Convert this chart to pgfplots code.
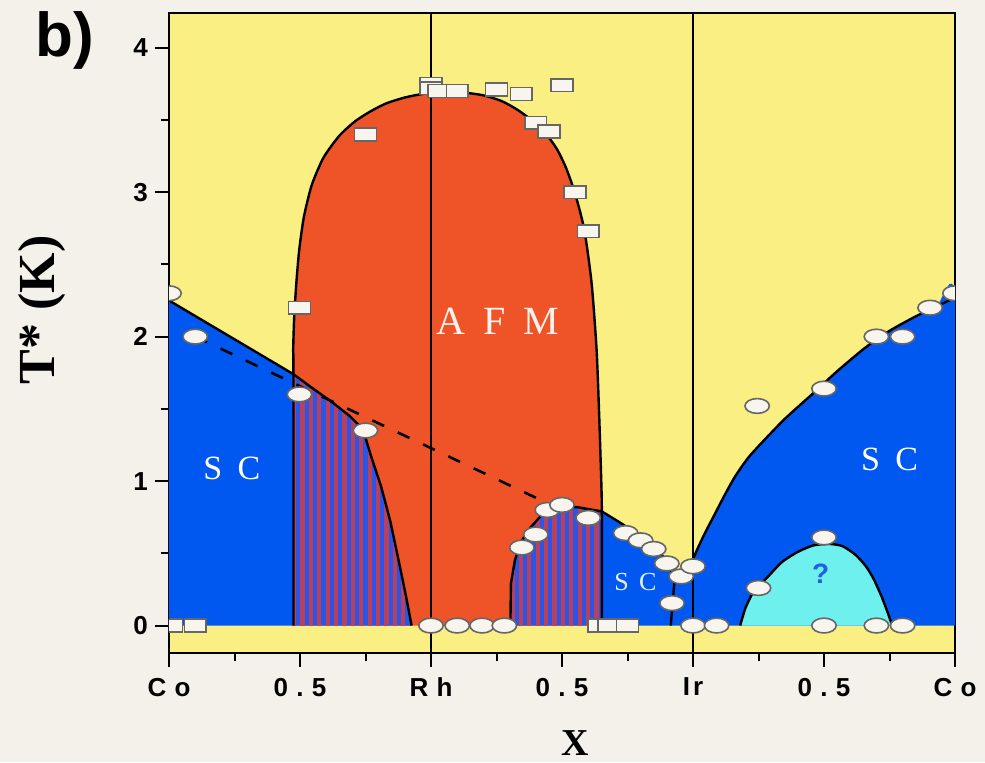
\documentclass[border=0pt]{standalone}
\usepackage{pgfplots}
\pgfplotsset{compat=1.18}
\usetikzlibrary{patterns.meta}
\usepackage{fontspec}
\setmainfont{Liberation Serif}
\newfontfamily\sansf{Liberation Sans}
\definecolor{bgc}{HTML}{F4F1EA}
\definecolor{yel}{HTML}{F9EF82}
\definecolor{org}{HTML}{EE5428}
\definecolor{scb}{HTML}{0058F0}
\definecolor{cya}{HTML}{6EF0EE}
\definecolor{sred}{HTML}{B8405C}
\definecolor{sblu}{HTML}{2A55E6}
\definecolor{qblue}{HTML}{1F60E6}
\definecolor{mk}{HTML}{F7F5EE}
\newcommand{\ls}{\hspace{0.32em}}
\begin{document}
\begin{tikzpicture}
\fill[bgc] (-84.5pt,-54.5pt) rectangle (408pt,326.5pt);
\begin{axis}[
  scale only axis, width=393pt, height=320pt,
  xmin=0, xmax=3, ymin=-0.19, ymax=4.24,
  axis background/.style={fill=yel},
  axis line style={line width=1pt},
  tick align=outside, tick pos=left,
  xtick={0,0.5,1,1.5,2,2.5,3},
  xticklabels={C\ls o,0\ls.\ls 5,R\ls h,0\ls.\ls 5,I\hspace{0.12em}r,0\ls.\ls 5,C\ls o},
  minor xtick={0.25,0.75,1.25,1.75,2.25,2.75},
  ytick={0,1,2,3,4}, yticklabels={0,1,2,3,4},
  minor ytick={0.5,1.5,2.5,3.5},
  major tick length=7pt, minor tick length=4pt,
  every tick/.style={line width=1pt, black},
  ticklabel style={font=\sansf\bfseries\fontsize{13}{13}\selectfont},
  xticklabel style={yshift=-2pt},
  clip marker paths=true,
]
% left SC (blue)
\addplot[fill=scb, draw=none] coordinates {(0,0)(0,2.25)(0.475,1.74)(0.475,0)};
% AFM dome
\addplot[fill=org, draw=none, smooth, tension=0.4] coordinates {
(0.475,0)(0.475,1.74)(0.474,1.91)(0.478,2.14)(0.486,2.37)(0.497,2.60)(0.515,2.83)(0.545,3.05)(0.59,3.24)
(0.65,3.39)(0.71,3.49)(0.77,3.56)(0.83,3.615)(0.90,3.655)(0.97,3.68)(1.05,3.69)(1.12,3.69)(1.20,3.67)
(1.27,3.63)(1.33,3.57)(1.39,3.49)(1.44,3.40)(1.48,3.30)(1.515,3.17)(1.55,2.99)(1.585,2.74)
(1.613,2.37)(1.632,1.91)(1.642,1.45)(1.65,0.99)(1.652,0.79)(1.652,0)};
% striped region 1
\addplot[fill=sblu, draw=none] coordinates {(0.475,0)(0.475,1.74)(0.55,1.64)(0.62,1.55)(0.69,1.45)(0.74,1.36)(0.77,1.18)(0.81,0.96)(0.845,0.72)(0.88,0.42)(0.905,0.20)(0.926,0)};
\addplot[pattern={Lines[angle=90,distance=4.2pt,line width=2.1pt]}, pattern color=sred, draw=none] coordinates {(0.475,0)(0.475,1.74)(0.55,1.64)(0.62,1.55)(0.69,1.45)(0.74,1.36)(0.77,1.18)(0.81,0.96)(0.845,0.72)(0.88,0.42)(0.905,0.20)(0.926,0)};
% striped region 2
\addplot[fill=sblu, draw=none] coordinates {(1.303,0)(1.305,0.29)(1.32,0.45)(1.34,0.57)(1.38,0.68)(1.43,0.78)(1.494,0.82)(1.558,0.82)(1.62,0.80)(1.652,0.79)(1.652,0)};
\addplot[pattern={Lines[angle=90,distance=4.2pt,line width=2.1pt]}, pattern color=sred, draw=none] coordinates {(1.303,0)(1.305,0.29)(1.32,0.45)(1.34,0.57)(1.38,0.68)(1.43,0.78)(1.494,0.82)(1.558,0.82)(1.62,0.80)(1.652,0.79)(1.652,0)};
% middle SC
\addplot[fill=scb, draw=none] coordinates {(1.652,0)(1.652,0.79)(1.724,0.71)(1.80,0.62)(1.85,0.55)(1.90,0.45)(1.93,0.32)(1.96,0.37)(2.0,0.46)(2.0,0)};
% right SC
\addplot[fill=scb, draw=none, smooth, tension=0.4] coordinates {(2.0,0)(2.0,0.46)(2.04,0.62)(2.08,0.76)(2.12,0.90)(2.16,1.03)(2.21,1.16)(2.27,1.28)(2.35,1.43)(2.46,1.61)(2.55,1.76)(2.655,1.92)(2.75,2.04)(2.85,2.14)(2.93,2.21)(3.0,2.27)(3.0,0)};
% cyan dome
\addplot[fill=cya, draw=none, smooth, tension=0.4] coordinates {(2.18,0)(2.20,0.12)(2.23,0.23)(2.287,0.34)(2.34,0.44)(2.40,0.51)(2.46,0.555)(2.52,0.565)(2.57,0.55)(2.62,0.49)(2.66,0.41)(2.69,0.32)(2.72,0.20)(2.745,0.08)(2.76,0)};
% boundaries
\addplot[black, line width=1.2pt, line join=round] coordinates {(0,2.25)(0.475,1.74)(0.55,1.64)(0.62,1.55)(0.69,1.45)(0.74,1.36)(0.77,1.18)(0.81,0.96)(0.845,0.72)(0.88,0.42)(0.905,0.20)(0.926,0)};
\addplot[black, line width=1.2pt, smooth, tension=0.4] coordinates {(0.475,0)(0.475,1.74)(0.474,1.91)(0.478,2.14)(0.486,2.37)(0.497,2.60)(0.515,2.83)(0.545,3.05)(0.59,3.24)
(0.65,3.39)(0.71,3.49)(0.77,3.56)(0.83,3.615)(0.90,3.655)(0.97,3.68)(1.05,3.69)(1.12,3.69)(1.20,3.67)
(1.27,3.63)(1.33,3.57)(1.39,3.49)(1.44,3.40)(1.48,3.30)(1.515,3.17)(1.55,2.99)(1.585,2.74)
(1.613,2.37)(1.632,1.91)(1.642,1.45)(1.65,0.99)(1.652,0.79)(1.652,0)};
\addplot[black, line width=1.2pt, line join=round] coordinates {(1.303,0)(1.305,0.29)(1.32,0.45)(1.34,0.57)(1.38,0.68)(1.43,0.78)(1.494,0.82)(1.558,0.82)(1.62,0.80)(1.652,0.79)(1.724,0.71)(1.80,0.62)(1.85,0.55)(1.90,0.45)(1.93,0.32)(1.96,0.37)(2.0,0.46)};
\addplot[black, line width=1.2pt] coordinates {(1.93,0.32)(1.915,0)};
\addplot[black, line width=1.2pt, smooth, tension=0.4] coordinates {(2.0,0.46)(2.04,0.62)(2.08,0.76)(2.12,0.90)(2.16,1.03)(2.21,1.16)(2.27,1.28)(2.35,1.43)(2.46,1.61)(2.55,1.76)(2.655,1.92)(2.75,2.04)(2.85,2.14)(2.93,2.21)(3.0,2.27)};
\addplot[black, line width=1.2pt, smooth, tension=0.4] coordinates {(2.18,0)(2.20,0.12)(2.23,0.23)(2.287,0.34)(2.34,0.44)(2.40,0.51)(2.46,0.555)(2.52,0.565)(2.57,0.55)(2.62,0.49)(2.66,0.41)(2.69,0.32)(2.72,0.20)(2.745,0.08)(2.76,0)};
% dashed line
\addplot[black, line width=1.3pt, dash pattern=on 6.5pt off 7.5pt] coordinates {(0.1,2.0)(1.40,0.885)};
% vertical composition lines
\addplot[black, line width=1.1pt] coordinates {(1,-0.19)(1,4.24)};
\addplot[black, line width=1.1pt] coordinates {(2,-0.19)(2,4.24)};
% labels
\node[white, font=\fontsize{17}{17}\selectfont] at (axis cs:0.24,1.085) {S\hspace{0.45em}C};
\node[white!92!org, font=\fontsize{20}{20}\selectfont] at (axis cs:1.255,2.105) {A\hspace{0.45em}F\hspace{0.45em}M};
\node[white, font=\fontsize{17}{17}\selectfont] at (axis cs:2.75,1.147) {S\hspace{0.45em}C};
\node[white!90!scb, font=\fontsize{13}{13}\selectfont] at (axis cs:1.78,0.30) {S\hspace{0.4em}C};
\node[qblue, font=\sansf\bfseries\fontsize{14}{14}\selectfont] at (axis cs:2.487,0.358) {?};
% data: squares
\addplot[only marks, mark=square*, mark size=3.2pt, mark options={xscale=1.7, fill=mk, draw=black!60, line width=0.8pt}] coordinates {
(0.01,0)(0.10,0)(0.498,2.20)(0.75,3.40)(1.0,3.75)(1.0,3.72)(1.03,3.70)(1.10,3.70)(1.25,3.71)(1.345,3.68)(1.50,3.74)
(1.40,3.48)(1.45,3.42)(1.55,3.00)(1.60,2.73)(1.64,0)(1.68,0)(1.75,0)};
% data: circles
\addplot[only marks, mark=*, mark size=3.7pt, mark options={xscale=1.65, fill=mk, draw=black!60, line width=0.8pt}] coordinates {
(0,2.30)(0.10,2.00)(0.498,1.60)(0.75,1.35)(1.0,0)(1.10,0)(1.195,0)(1.28,0)
(1.347,0.54)(1.40,0.63)(1.444,0.80)(1.50,0.835)(1.60,0.745)(1.743,0.64)(1.80,0.59)(1.85,0.53)(1.90,0.43)(1.955,0.34)(2.0,0.41)(1.92,0.155)
(2.0,0)(2.09,0)(2.245,1.52)(2.50,1.64)(2.70,2.00)(2.80,2.00)(2.905,2.20)(3.0,2.30)(2.50,0.61)(2.25,0.26)(2.50,0)(2.70,0)(2.80,0)};
\end{axis}
\node[rotate=90, font=\bfseries\fontsize{26}{26}\selectfont] at (-63.5pt,171.5pt) {T* (K)};
\node[font=\bfseries\fontsize{19}{19}\selectfont] at (203pt,-45pt) {X};
\node[anchor=base west, inner sep=0pt, font=\sansf\bfseries\fontsize{31}{31}\selectfont] at (-67pt,298pt) {b)};
\pgfresetboundingbox
\path (-84.5pt,-54.5pt) rectangle (408pt,326.5pt);
\end{tikzpicture}
\end{document}
